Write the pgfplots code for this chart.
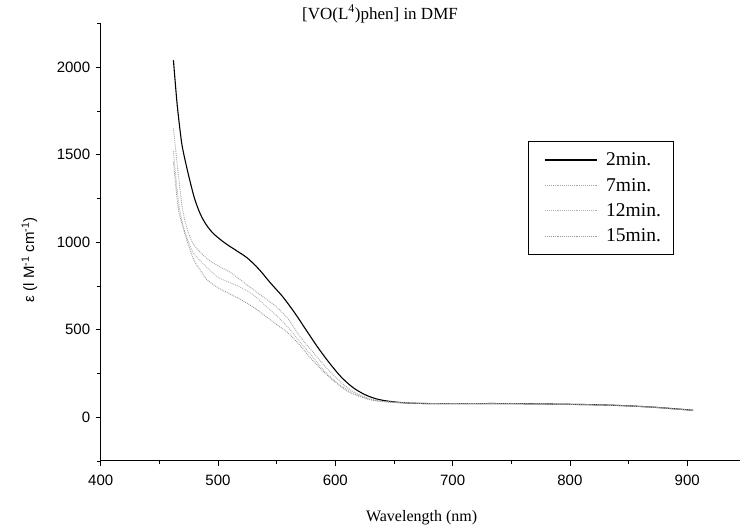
\documentclass[border=0pt]{standalone}
\usepackage{fontspec}
\setmainfont{Liberation Serif}
\setsansfont{Liberation Sans}
\usepackage{pgfplots}
\pgfplotsset{compat=1.18}

\begin{document}
\begin{tikzpicture}[x=1pt,y=1pt]
\useasboundingbox (0,0) rectangle (740,526);
\begin{axis}[
  at={(100.7pt,65pt)}, anchor=south west,
  scale only axis,
  width=639.3pt, height=437.5pt,
  xmin=400, xmax=945,
  ymin=-250, ymax=2250,
  axis x line=bottom, axis y line=left,
  axis line style={-, line width=1pt},
  tick align=outside,
  xtick={400,500,...,900},
  minor xtick={450,550,...,950},
  ytick={0,500,...,2000},
  minor ytick={-250,250,...,2250},
  major tick length=5pt, minor tick length=3.5pt,
  every tick/.style={black, line width=0.8pt},
  /pgf/number format/assume math mode=true,
  /pgf/number format/set thousands separator={},
  ticklabel style={font=\sffamily\fontsize{15}{17}\selectfont},
  xticklabel style={yshift=-6pt},
  yticklabel style={xshift=-2pt},
  xlabel={Wavelength (nm)},
  xlabel style={font=\fontsize{16}{18}\selectfont, at={(axis description cs:0.502,0)}, anchor=north, yshift=-46pt},
  ylabel={ε (l M\textsuperscript{-1} cm\textsuperscript{-1})},
  ylabel style={font=\sffamily\fontsize{15}{17}\selectfont, at={(axis description cs:0,0.46)}, anchor=south, yshift=60pt},
  legend style={at={(axis cs:764,1577)}, anchor=north west,
    draw=black, line width=1pt, fill=white,
    font=\fontsize{19.5}{21}\selectfont,
    inner xsep=11pt, inner ysep=9pt,
    row sep=7pt, cells={anchor=west}},
  legend image code/.code={\path[draw=none] (0pt,0pt) -- (65pt,0pt);\draw[#1] (6pt,0pt) -- (58pt,0pt);},
  clip=false,
]
\addplot[black, line width=1.1pt, smooth] coordinates {
(462,2040) (465,1800) (468,1620) (470,1530) (475,1380) (480,1250) (485,1160)
(490,1100) (496,1050) (505,1000) (515,955) (525,910) (535,845) (545,765)
(555,690) (565,600) (575,500) (585,400) (595,310) (605,230) (615,170)
(625,130) (635,105) (645,92) (660,82) (680,78) (700,78) (750,78) (800,74)
(830,70) (850,65) (870,58) (890,48) (905,40)};
\addlegendentry{2min.}
\addplot[gray!70, line width=0.9pt, densely dotted, smooth] coordinates {
(462,1650) (466,1400) (470,1180) (475,1050) (480,980) (490,910) (500,865)
(510,830) (520,780) (530,730) (540,680) (550,630) (560,560) (570,460)
(580,380) (590,300) (600,230) (610,170) (620,130) (630,105) (640,92)
(655,84) (680,79) (700,78) (750,78) (800,74) (830,70) (850,65) (870,58)
(890,48) (905,40)};
\addlegendentry{7min.}
\addplot[gray!60, line width=0.9pt, densely dotted, smooth] coordinates {
(462,1520) (466,1250) (470,1100) (475,1000) (480,930) (490,860) (500,800)
(510,770) (520,740) (530,700) (540,640) (550,580) (560,510) (570,430)
(580,350) (590,270) (600,205) (610,160) (620,125) (630,100) (640,90)
(655,83) (680,78) (700,78) (750,77) (800,73) (830,69) (850,64) (870,57)
(890,47) (905,39)};
\addlegendentry{12min.}
\addplot[gray!80, line width=0.9pt, densely dotted, smooth] coordinates {
(462,1460) (466,1200) (470,1090) (475,980) (480,890) (485,840) (490,790)
(500,740) (510,705) (520,670) (530,630) (540,580) (550,530) (560,480)
(570,410) (580,330) (590,260) (600,200) (610,150) (620,120) (630,100)
(640,90) (655,82) (680,78) (700,78) (750,77) (800,73) (830,69) (850,64)
(870,57) (890,47) (905,39)};
\addlegendentry{15min.}
\end{axis}
\node[font=\fontsize{17}{19}\selectfont] at (380,512) {[VO(L\textsuperscript{4})phen] in DMF};
\end{tikzpicture}
\end{document}
